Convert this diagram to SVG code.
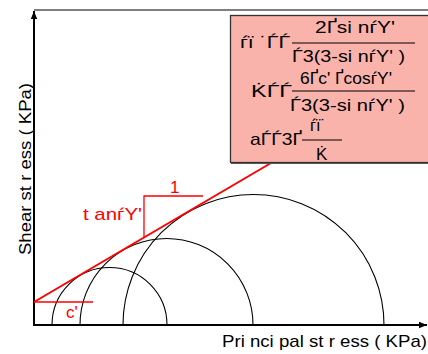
<svg xmlns="http://www.w3.org/2000/svg" width="428" height="354" viewBox="0 0 428 354">
<style>
.ax{stroke:#000;stroke-width:2;fill:none}
.circ{stroke:#000;stroke-width:1.1;fill:none}
.red{stroke:#ff0000;stroke-width:2;fill:none}
.redthin{stroke:#ff0000;stroke-width:1.3;fill:none}
.t{font-family:"Liberation Sans",Arial,sans-serif;fill:#000}
.rt{font-family:"Liberation Sans",Arial,sans-serif;fill:#ff0000;font-size:17px}
.bx{font-family:"Liberation Sans",Arial,sans-serif;fill:#000;font-size:17px}
.bar{stroke:#000;stroke-width:1}
</style>
<defs>
<marker id="ah" viewBox="0 0 10 10" refX="10" refY="5" markerWidth="8" markerHeight="8" markerUnits="userSpaceOnUse" orient="auto">
<path d="M0,1 L10,5 L0,9 Z" fill="#000"/>
</marker>
</defs>
<g id="frame">
<line x1="34" y1="10" x2="428" y2="10" stroke="#555" stroke-width="1.5"/>
</g>
<g id="axes">
<line class="ax" x1="34" y1="325" x2="34" y2="11" marker-end="url(#ah)"/>
<line class="ax" x1="33" y1="325" x2="427" y2="325" marker-end="url(#ah)"/>
</g>
<g id="circles">
<path class="circ" d="M52,325 A57.5,57.5 0 0 1 167,325"/>
<path class="circ" d="M80,325 A86.5,86.5 0 0 1 253,325"/>
<path class="circ" d="M123,325 A130.5,130.5 0 0 1 384,325"/>
</g>
<g id="connectors">
<line class="red" x1="34" y1="302" x2="271" y2="163"/>
<line class="redthin" x1="34" y1="302" x2="93" y2="302"/>
<polyline class="redthin" points="144,238 144,196 203,196"/>
</g>
<g id="labels">
<text class="rt" x="66" y="318">c'</text>
<text class="rt" x="170" y="193">1</text>
<text class="rt" x="83" y="220" textLength="59" lengthAdjust="spacingAndGlyphs">t anѓY'</text>
<text class="t" font-size="17" x="222" y="347" textLength="205" lengthAdjust="spacingAndGlyphs">Pri nci pal st r ess ( KPa)</text>
<text class="t" font-size="17" transform="translate(31,255) rotate(-90)" textLength="172" lengthAdjust="spacingAndGlyphs">Shear st r ess ( KPa)</text>
</g>
<g id="formula-box">
<rect x="230.5" y="15.5" width="200" height="147" fill="#fab3aa" stroke="#333" stroke-width="1.3"/>
<line x1="231" y1="163.5" x2="428" y2="163.5" stroke="#555" stroke-width="1"/>
<text class="bx" x="240" y="48" textLength="50" lengthAdjust="spacingAndGlyphs">ѓї ˙ЃЃ</text>
<text class="bx" x="315" y="33" textLength="80" lengthAdjust="spacingAndGlyphs">2Ґsi nѓY'</text>
<line class="bar" x1="292" y1="43" x2="415" y2="43"/>
<text class="bx" x="292" y="62" textLength="113" lengthAdjust="spacingAndGlyphs">Ѓ3(3-si nѓY' )</text>
<text class="bx" x="251" y="97" textLength="41" lengthAdjust="spacingAndGlyphs">K̇ЃЃ</text>
<text class="bx" x="300" y="84" textLength="92" lengthAdjust="spacingAndGlyphs">6Ґc' ҐcosѓY'</text>
<line class="bar" x1="292" y1="91" x2="415" y2="91"/>
<text class="bx" x="290" y="111" textLength="115" lengthAdjust="spacingAndGlyphs">Ѓ3(3-si nѓY' )</text>
<text class="bx" x="250" y="145" textLength="52" lengthAdjust="spacingAndGlyphs">aЃЃ3Ґ</text>
<text class="bx" x="310" y="131" textLength="16" lengthAdjust="spacingAndGlyphs">ѓї˙</text>
<line class="bar" x1="302" y1="140" x2="342" y2="140"/>
<text class="bx" x="316" y="160">K̇</text>
</g>
</svg>
